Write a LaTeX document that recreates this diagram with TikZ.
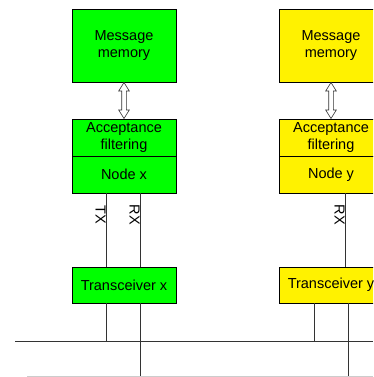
\documentclass[tikz,border=0pt]{standalone}
\usepackage{fontspec}
\setmainfont{Liberation Sans}
\usetikzlibrary{shapes.arrows,calc}
\begin{document}
\begin{tikzpicture}[x=1pt,y=-1pt,
  box/.style={draw=black, line width=0.8pt, minimum width=104pt, inner sep=0pt, outer sep=0pt, align=center, font=\fontsize{14.5}{17.5}\selectfont},
  gbox/.style={box, fill=green},
  ybox/.style={box, fill=yellow},
  wire/.style={draw=black!80, line width=0.8pt},
  sig/.style={font=\fontsize{14.5}{17.5}\selectfont, rotate=-90, inner sep=0pt},
  darr/.style={double arrow, draw=black!80, fill=white, line width=0.6pt, rotate=90, minimum height=36pt, minimum width=10pt, inner sep=2pt, double arrow head extend=3pt, double arrow tip angle=64}
]
\useasboundingbox (0,0) rectangle (373,377);
\clip (0,0) rectangle (373,377);

% coordinates
\coordinate (txx) at (106,0);
\coordinate (rxx) at (140.5,0);
\coordinate (rxy) at (345.5,0);
\coordinate (tyx) at (314.5,0);
\coordinate (ryx) at (348.5,0);
\coordinate (busL) at (15,341);
\coordinate (busR) at (373,341);
\coordinate (bot) at (0,377);
\coordinate (grayL) at (27,376);
\coordinate (grayR) at (373,376);

% green node
\node[gbox, minimum height=73pt] (mmx) at (124,45.5) {Message\\memory};
\node[gbox, minimum height=37pt] (afx) at (124,137.5) {Acceptance\\filtering};
\node[gbox, minimum height=37pt] (nx) at (124,174.5) {Node x};
\node[gbox, minimum height=36pt] (trx) at (124,285) {Transceiver x};

% yellow node
\node[ybox, minimum height=73pt] (mmy) at (331,45.5) {Message\\memory};
\node[ybox, minimum height=37pt] (afy) at (331,137.5) {Acceptance\\filtering};
\node[ybox, minimum height=37pt] (ny) at (331,174.5) {Node y};
\node[ybox, minimum height=36pt] (try) at (331,285) {Transceiver y};

% double arrows
\node[darr] (ax) at ($(mmx.south)!0.5!(afx.north)$) {};
\node[darr] (ay) at ($(mmy.south)!0.5!(afy.north)$) {};

% wires green
\draw[wire] (nx.south -| txx) -- (trx.north -| txx);
\draw[wire] (nx.south -| rxx) -- (trx.north -| rxx);
\draw[wire] (trx.south -| txx) -- (busL -| txx);
\draw[wire] (trx.south -| rxx) -- (bot -| rxx);

% wires yellow
\draw[wire] (ny.south -| rxy) -- (try.north -| rxy);
\draw[wire] (try.south -| tyx) -- (busL -| tyx);
\draw[wire] (try.south -| ryx) -- (bot -| ryx);

% bus
\draw[wire] (busL) -- (busR);
\draw[black!20, line width=0.8pt] (grayL) -- (grayR);

% labels
\node[sig] (tx) at (100.5,215) {TX};
\node[sig] (rx) at (134.5,215) {RX};
\node[sig] (ry) at (339.5,215) {RX};
\end{tikzpicture}
\end{document}
